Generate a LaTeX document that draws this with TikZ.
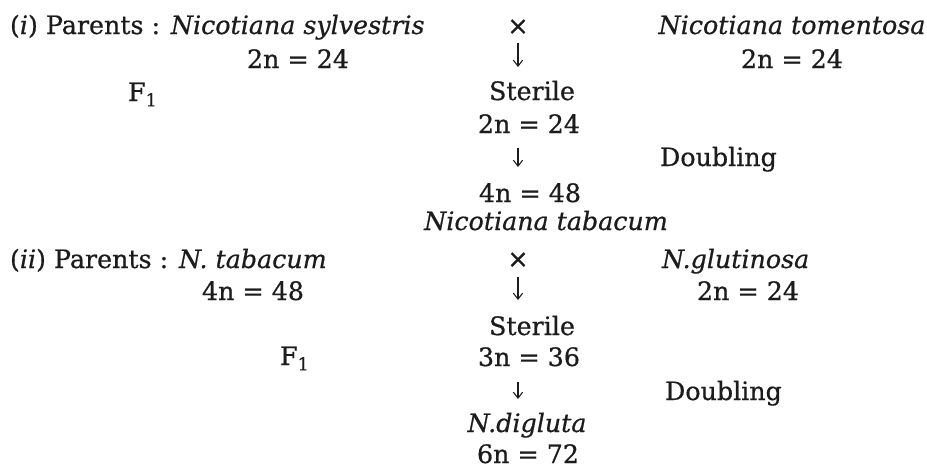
\documentclass[tikz,border=0pt]{standalone}
\usepackage{fontspec}
\setmainfont[FakeBold=0.6]{DejaVu Serif}
\usetikzlibrary{arrows.meta,calc}
\definecolor{ink}{RGB}{28,28,28}
\begin{document}
\begin{tikzpicture}[x=0.75pt,y=-0.75pt,
  every node/.style={inner sep=0pt, outer sep=0pt, text=ink, font=\fontsize{19pt}{23pt}\selectfont},
  lbl/.style={anchor=base},
  lblw/.style={anchor=base west},
  crs/.style={anchor=center},
  arr/.style={draw=ink, line width=0.8pt, -{Straight Barb[length=4.5pt,width=7pt]}}]
\fill[white] (0,0) rectangle (927,469);
\useasboundingbox (0,0) rectangle (927,469);
% ---- part (i)
\node[lblw] (p1) at (10,34) {(\textit{i}) Parents : \textit{Nicotiana sylvestris}};
\node[crs] (cross1) at (518,27) {×};
\node[lbl] (tom) at (792,34) {\textit{Nicotiana tomentosa}};
\node[lbl] (n2L) at (298,68) {2n = 24};
\node[lbl] (n2R) at (792,68) {2n = 24};
\node[lblw] (F1a) at (128,101) {F\textsubscript{1}};
\node[lbl] (s1) at (532,100) {Sterile};
\node[lbl] (n2C) at (529,133) {2n = 24};
\node[lblw] (dbl1) at (660,166) {Doubling};
\node[lbl] (f4) at (530,202) {4n = 48};
\node[lbl] (tab) at (546,230) {\textit{Nicotiana tabacum}};
% ---- part (ii)
\node[lblw] (p2) at (10,268) {(\textit{ii}) Parents : \textit{N. tabacum}};
\node[crs] (cross2) at (518,260) {×};
\node[lblw] (glut) at (662,268) {\textit{N.glutinosa}};
\node[lbl] (f4L) at (253,300) {4n = 48};
\node[lbl] (n2R2) at (748,300) {2n = 24};
\node[lbl] (s2) at (532,335) {Sterile};
\node[lblw] (F1b) at (280,365) {F\textsubscript{1}};
\node[lbl] (n3) at (529,366) {3n = 36};
\node[lblw] (dbl2) at (665,400) {Doubling};
\node[lbl] (dig) at (527,432) {\textit{N.digluta}};
\node[lbl] (n6) at (528,463) {6n = 72};
% ---- arrows
\draw[arr] ($(cross1.center)+(0,16)$) -- ($(cross1.center |- s1.base)+(0,-33)$);
\draw[arr] ($(cross1.center |- n2C.base)+(0,15)$) -- ($(cross1.center |- f4.base)+(0,-35)$);
\draw[arr] ($(cross2.center)+(0,17)$) -- ($(cross2.center |- s2.base)+(0,-35)$);
\draw[arr] ($(cross2.center |- n3.base)+(0,16)$) -- ($(cross2.center |- dig.base)+(0,-33)$);
\end{tikzpicture}
\end{document}
